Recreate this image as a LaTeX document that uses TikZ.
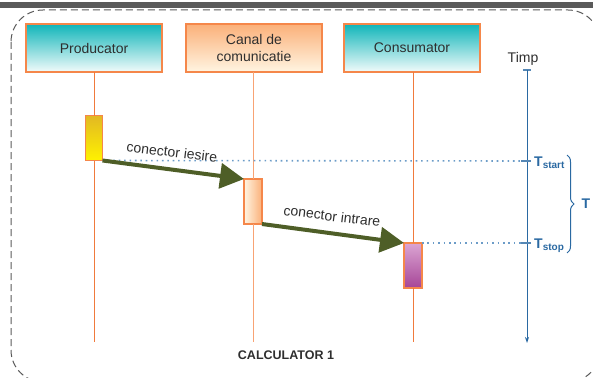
\documentclass[tikz,border=0pt]{standalone}
\usepackage{fontspec}
\setmainfont{Liberation Sans}
\usetikzlibrary{arrows.meta,decorations.pathreplacing}
\definecolor{framegray}{HTML}{5A5A5A}
\definecolor{boxline}{HTML}{F5874A}
\definecolor{lifeline}{HTML}{F07A3C}
\definecolor{lifelinelight}{HTML}{F8A374}
\definecolor{txt}{HTML}{2E2E2E}
\definecolor{teal}{HTML}{10B5B9}
\definecolor{tealwhite}{HTML}{F2FBFB}
\definecolor{peach}{HTML}{FBB079}
\definecolor{peachlight}{HTML}{FFF5E2}
\definecolor{goldtop}{HTML}{E2B823}
\definecolor{goldbot}{HTML}{FFF200}
\definecolor{pinktop}{HTML}{DBA5D3}
\definecolor{purplebot}{HTML}{A64597}
\definecolor{olivearrow}{HTML}{4E5E27}
\definecolor{timeblue}{HTML}{2A69A2}
\definecolor{dotblue}{HTML}{6C9CC8}
\begin{document}
\begin{tikzpicture}[x=1pt,y=-1pt,
  header/.style={draw=boxline, line width=1.1pt, minimum width=136pt,
    minimum height=48pt, inner sep=0pt, outer sep=0pt, text=txt,
    font=\fontsize{14}{17.5}\selectfont, align=center},
  actbox/.style={draw=boxline, line width=1.1pt, minimum width=17pt,
    minimum height=45pt, inner sep=0pt, outer sep=0pt},
  life/.style={draw=lifeline, line width=1pt},
  flow/.style={draw=olivearrow, line width=4pt,
    -{Triangle[length=24pt,width=25pt]}},
  msglabel/.style={text=txt, font=\fontsize{14}{16}\selectfont,
    rotate=-7, inner sep=0pt},
  guide/.style={draw=dotblue, line width=1.6pt,
    dash pattern=on 1.6pt off 3.8pt},
  timelabel/.style={text=timeblue, font=\fontsize{14}{16}\selectfont\bfseries,
    inner sep=0pt}
]
\useasboundingbox (0,0) rectangle (593,377);
\clip (0,0) rectangle (593,377);

% title bar and dashed frame of the computer
\fill[framegray] (0,2) rectangle (593,8.3);
\draw[framegray, line width=1pt, dash pattern=on 7pt off 4pt, rounded corners=32pt]
  (11,10) rectangle (600,382);
\node[text=txt, font=\fontsize{12.5}{14}\selectfont\bfseries] (calc) at (286,355) {CALCULATOR 1};

% participants
\node[header, top color=teal, bottom color=tealwhite] (prod) at (94,48) {Producator};
\node[header, top color=peach, bottom color=peachlight] (canal) at (254,48) {Canal de\\comunicatie};
\node[header, top color=teal, bottom color=tealwhite] (cons) at (412,48) {Consumator};

% activation bars
\node[actbox, top color=goldtop, bottom color=goldbot] (actP) at (94,138) {};
\node[actbox, minimum width=18pt, left color=peachlight, right color=peach] (actC) at (253,201.5) {};
\node[actbox, minimum width=18pt, top color=pinktop, bottom color=purplebot] (actK) at (413,265.5) {};

% lifeline ends
\coordinate (prodEnd) at (94,342);
\coordinate (canalEnd) at (253,342);
\coordinate (consEnd) at (413,342);

\draw[life] (prod.south) -- (actP.north);
\draw[life] (actP.south) -- (prodEnd);
\draw[life, draw=lifelinelight] (canal.south -| actC) -- (actC.north);
\draw[life, draw=lifelinelight] (actC.south) -- (canalEnd);
\draw[life] (cons.south -| actK) -- (actK.north);
\draw[life] (actK.south) -- (consEnd);

% time axis
\node[text=txt, font=\fontsize{14}{16}\selectfont, inner sep=0pt] (timp) at (523,59) {Timp};
\coordinate (axisTop) at (527,70);
\coordinate (axisBot) at (527,343);
\coordinate (tickL) at (523,70);
\coordinate (tickR) at (531,70);
\draw[timeblue!80, line width=1.3pt] (tickL) -- (tickR);
\draw[timeblue, line width=0.9pt, -{Stealth[length=6pt,width=4pt]}] (axisTop) -- (axisBot);

% guide lines to the time axis
\coordinate (startPt) at (527,161);
\coordinate (stopPt) at (527,243);
\coordinate (startTickL) at (521,161);
\coordinate (startTickR) at (531,161);
\coordinate (stopTickL) at (521,243);
\coordinate (stopTickR) at (531,243);
\draw[guide] (actP.south east) -- (startPt);
\draw[guide] (actK.north east) -- (stopPt);
\draw[timeblue!80, line width=1.2pt] (startTickL) -- (startTickR);
\draw[timeblue!80, line width=1.2pt] (stopTickL) -- (stopTickR);

\node[timelabel, anchor=base west] (tstart) at (534,166)
  {T{\fontsize{10}{10}\selectfont\raisebox{-2.5pt}{start}}};
\node[timelabel, anchor=base west] (tstop) at (534,248)
  {T{\fontsize{10}{10}\selectfont\raisebox{-2.5pt}{stop}}};

% interval brace
\coordinate (braceTop) at (567,155);
\coordinate (braceBot) at (567,253);
\draw[timeblue, line width=1pt, decorate, decoration={brace, amplitude=7pt}]
  (braceTop) -- (braceBot);
\node[timelabel] (tT) at (586,204) {T};

% messages
\draw[flow] (actP.south east) -- (actC.north west);
\draw[flow] (actC.south east) -- (actK.north west);
\node[msglabel] (lblOut) at (172,152) {conector iesire};
\node[msglabel] (lblIn) at (332,216) {conector intrare};
\end{tikzpicture}
\end{document}
